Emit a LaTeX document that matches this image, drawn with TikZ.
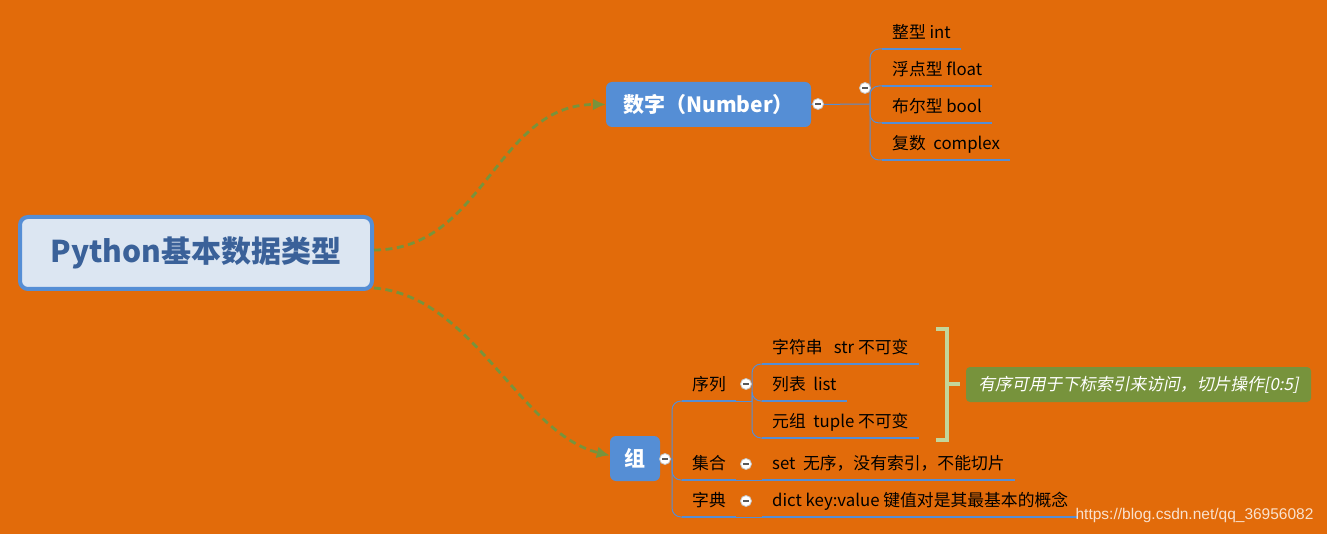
\documentclass[tikz,border=0pt]{standalone}
\usepackage{fontspec}
\setmainfont{Noto Sans CJK SC}
\newfontfamily\noteit[FakeSlant=0.2]{Noto Sans CJK SC}
\newfontfamily\markfont{Liberation Sans}
\usetikzlibrary{arrows.meta}

\definecolor{bgorange}{HTML}{E26B0A}
\definecolor{topicblue}{HTML}{558ED5}
\definecolor{rootfill}{HTML}{DCE6F2}
\definecolor{roottext}{HTML}{3A6199}
\definecolor{linkgreen}{HTML}{77933C}
\definecolor{bracegreen}{HTML}{C3D69B}

\tikzset{
  rootbox/.style={draw=topicblue, line width=4pt, fill=rootfill, rounded corners=8pt,
    minimum width=352pt, minimum height=72pt, text=roottext,
    font=\bfseries\fontsize{30}{34}\selectfont},
  topicbox/.style={fill=topicblue, rounded corners=6pt, text=white,
    font=\bfseries\fontsize{21}{25}\selectfont},
  leaf/.style={anchor=south west, inner xsep=10pt, inner ysep=0pt,
    text height=12pt, text depth=10pt, font=\fontsize{16.8}{20}\selectfont},
  uline/.style={draw=topicblue, line width=2.2pt},
  branchline/.style={draw=topicblue, line width=1pt},
  linkarrow/.style={draw=linkgreen, line width=2.8pt, dash pattern=on 7pt off 4.5pt,
    -{Latex[length=13pt,width=12pt]}},
  foldmark/.style={circle, draw=gray!45, fill=white, line width=0.8pt,
    minimum size=11pt, inner sep=0pt,
    path picture={\draw[gray!70!black, line width=1.4pt]
      ([xshift=-2.8pt]path picture bounding box.center) --
      ([xshift=2.8pt]path picture bounding box.center);}},
  bracebar/.style={draw=bracegreen, line width=4pt},
  notebox/.style={fill=linkgreen, rounded corners=4pt, minimum width=345pt,
    minimum height=35pt, text=white, font=\noteit\fontsize{16.8}{20}\selectfont},
}

\begin{document}
\begin{tikzpicture}[x=1pt, y=-1pt]
  % background
  \fill[bgorange] (0,0) rectangle (1327,534);
  \useasboundingbox (0,0) rectangle (1327,534);

  % root
  \node[rootbox] (root) at (196,253) {Python基本数据类型};

  % topics
  \node[topicbox, minimum width=205pt, minimum height=45pt] (num) at (708.5,104.5) {数字（Number）};
  \node[topicbox, minimum width=50pt, minimum height=45pt] (grp) at (635,458.5) {组};

  % root links
  \draw[linkarrow] ([yshift=3pt]root.east) .. controls +(110,0) and +(-110,0) .. (num.west);
  \draw[linkarrow] ([yshift=-35pt]root.east) .. controls +(100,8) and +(-90,-22) .. ([yshift=3pt]grp.west);

  % number leaves
  \node[leaf] (int) at (882,49) {整型 int};
  \node[leaf] (float) at (882,86) {浮点型 float};
  \node[leaf] (bool) at (882,123) {布尔型 bool};
  \node[leaf] (cplx) at (882,160) {复数\ \ complex};
  \coordinate (numhub) at (870,104);
  \draw[branchline] (num.east) -- (numhub);
  \foreach \leafname in {int,float,bool,cplx}
    \draw[branchline, rounded corners=9pt] (numhub) |- (\leafname.south west);

  % group leaves
  \node[leaf] (seq) at (682,401) {序列};
  \node[leaf] (set) at (682,480) {集合};
  \node[leaf] (dict) at (682,517) {字典};
  \coordinate (grphub) at (672,459);
  \draw[branchline] (grp.east) -- (grphub);
  \foreach \leafname in {seq,set,dict}
    \draw[branchline, rounded corners=9pt] (grphub) |- (\leafname.south west);

  % sequence items
  \node[leaf] (str) at (762,364) {字符串\ \ \ str 不可变};
  \node[leaf] (list) at (762,401) {列表\ \ list};
  \node[leaf] (tuple) at (762,438) {元组\ \ tuple 不可变};
  \coordinate (seqhub) at (752,401);
  \draw[branchline] (seq.south east) -- (seqhub);
  \foreach \leafname in {str,list,tuple}
    \draw[branchline, rounded corners=9pt] (seqhub) |- (\leafname.south west);

  % set and dict items
  \node[leaf] (setinfo) at (762,480) {set\ \ 无序，没有索引，不能切片};
  \node[leaf] (dictinfo) at (762,517) {dict key:value 键值对是其最基本的概念};
  \draw[branchline] (set.south east) -- (setinfo.south west);
  \draw[branchline] (dict.south east) -- (dictinfo.south west);

  % underlines
  \foreach \leafname in {int,float,bool,cplx,seq,set,dict,str,list,tuple,setinfo,dictinfo}
    \draw[uline] (\leafname.south west) -- (\leafname.south east);

  % fold marks
  \node[foldmark] (f1) at (818,104) {};
  \node[foldmark] (f2) at (865,88) {};
  \node[foldmark] (f3) at (665,459) {};
  \node[foldmark] (f4) at (746,384) {};
  \node[foldmark] (f5) at (746,464) {};
  \node[foldmark] (f6) at (746,501) {};

  % summary
  \draw[bracebar] (936,329) -- (947,329) -- (947,440) -- (936,440);
  \coordinate (bracetip) at (960,384);
  \draw[bracebar] (947,384) -- (bracetip);
  \node[notebox] (note) at (1138.5,384.5) {有序可用于下标索引来访问，切片操作[0:5]};

  % watermark
  \node[anchor=east, text=white, opacity=0.8, font=\markfont\fontsize{15.5}{18}\selectfont] (mark) at (1317,515) {https://blog.csdn.net/qq\_36956082};
\end{tikzpicture}
\end{document}
